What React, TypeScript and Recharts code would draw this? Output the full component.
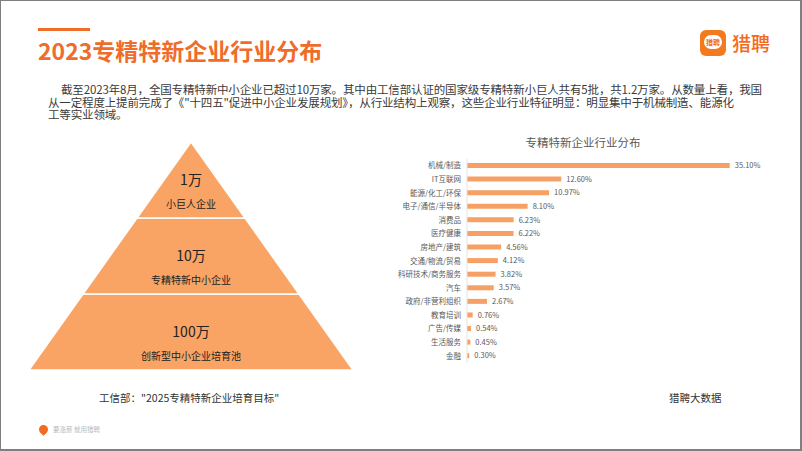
import React from 'react';
import { BarChart, Bar, XAxis, YAxis, LabelList, FunnelChart, Funnel, Trapezoid } from 'recharts';

const industries = [
  '机械/制造', 'IT互联网', '能源/化工/环保', '电子/通信/半导体', '消费品', '医疗健康',
  '房地产/建筑', '交通/物流/贸易', '科研技术/商务服务', '汽车', '政府/非营利组织',
  '教育培训', '广告/传媒', '生活服务', '金融',
];
const shares = [35.1, 12.6, 10.97, 8.1, 6.23, 6.22, 4.56, 4.12, 3.82, 3.57, 2.67, 0.76, 0.54, 0.45, 0.3];

// pyramid tiers, bottom to top
const tierValues = ['100万', '10万', '1万'];
const tierNames = ['创新型中小企业培育池', '专精特新中小企业', '小巨人企业'];
const tierLevels = [3, 2, 1];

const barData = industries.map((name, i) => ({ name, share: shares[i] }));
const tierData = tierValues.map((v, i) => ({ label: v, name: tierNames[i], level: tierLevels[i] }));

const intro =
  '截至2023年8月，全国专精特新中小企业已超过10万家。其中由工信部认证的国家级专精特新小巨人共有5批，共1.2万家。从数量上看，我国\n' +
  '从一定程度上提前完成了《"十四五"促进中小企业发展规划》，从行业结构上观察，这些企业行业特征明显：明显集中于机械制造、能源化\n' +
  '工等实业领域。';

const FONT = '"Noto Sans CJK SC", "Noto Sans", sans-serif';
const ORANGE = '#EF6C2B';
const PYRAMID = '#F9A465';
const BAR = '#F7A065';

const TierShape = (props: any) => {
  const { x, y, upperWidth, lowerWidth, height, payload } = props;
  const cx = x + upperWidth / 2;
  const cy = y + height / 2;
  const entry = payload && payload.label ? payload : props;
  return (
    <g>
      <Trapezoid x={x} y={y} upperWidth={upperWidth} lowerWidth={lowerWidth} height={height}
        fill={PYRAMID} stroke="#fff" strokeWidth={1.5} />
      <text x={cx} y={cy - 1} textAnchor="middle" dominantBaseline="central" fontSize={14} fill="#222" fontFamily={FONT}>
        {entry.label}
      </text>
      <text x={cx} y={cy + 23} textAnchor="middle" dominantBaseline="central" fontSize={10} fill="#222" fontFamily={FONT}>
        {entry.name}
      </text>
    </g>
  );
};

const abs = (left: number, top: number, extra: React.CSSProperties = {}): React.CSSProperties => ({
  position: 'absolute', left, top, whiteSpace: 'nowrap', ...extra,
});

export default function App() {
  return (
    <div style={{
      position: 'absolute', left: 0, top: 0, width: 802, height: 451, background: '#fff',
      boxSizing: 'border-box', borderStyle: 'solid', borderColor: '#7f7f7f', borderWidth: '1px 2px 2px 1px',
      fontFamily: FONT, overflow: 'hidden',
    }}>
      {/* header */}
      <div style={abs(37, 27, { width: 52, height: 3, background: ORANGE })} />
      <div style={abs(37, 35, { fontSize: 23, lineHeight: '28px', fontWeight: 700, color: ORANGE })}>
        2023专精特新企业行业分布
      </div>
      <div style={abs(699, 29, { width: 26, height: 26, borderRadius: 6, background: '#F47A1F' })}>
        <div style={{ position: 'absolute', left: 4, top: 5, width: 18, height: 14, borderRadius: 7, background: '#fff',
          fontSize: 7, lineHeight: '14px', textAlign: 'center', color: '#F26B21', fontWeight: 700 }}>猎聘</div>
      </div>
      <div style={abs(731, 30, { fontSize: 19, lineHeight: '24px', color: '#F26B21', fontWeight: 500 })}>猎聘</div>

      {/* paragraph */}
      <div style={abs(47, 82, { whiteSpace: 'pre', textIndent: 13, fontSize: 11.5, lineHeight: '12.6px',
        letterSpacing: -0.15, color: '#3a3a3a' })}>
        {intro}
      </div>

      {/* pyramid */}
      <div style={abs(0, 130)}>
        <FunnelChart width={380} height={250} margin={{ top: 11, right: 28, bottom: 11, left: 28 }}>
          <Funnel data={tierData} dataKey="level" nameKey="name" reversed isAnimationActive={false}
            shape={TierShape} />
        </FunnelChart>
      </div>

      {/* bar chart */}
      <div style={abs(482, 134, { width: 200, textAlign: 'center', fontSize: 11.5, lineHeight: '14px', color: '#595959' })}>
        专精特新企业行业分布
      </div>
      <div style={abs(380, 150)}>
        <BarChart width={420} height={220} data={barData} layout="vertical"
          margin={{ top: 8, right: 34.6, bottom: 8.2, left: 6 }}>
          <XAxis type="number" domain={[0, 40]} hide />
          <YAxis type="category" dataKey="name" width={80} tickLine={false} tickSize={4} tickMargin={2}
            axisLine={{ stroke: '#e3e3e3' }} interval={0}
            tick={{ fontSize: 7.5, fill: '#595959', fontFamily: FONT }} />
          <Bar dataKey="share" fill={BAR} barSize={5} isAnimationActive={false}>
            <LabelList dataKey="share" position="right" offset={5}
              formatter={(v: any) => `${Number(v).toFixed(2)}%`}
              style={{ fontSize: 7.5, fill: '#595959', fontFamily: FONT }} />
          </Bar>
        </BarChart>
      </div>

      {/* footer */}
      <div style={abs(98, 390, { fontSize: 10.5, lineHeight: '14px', color: '#333' })}>工信部："2025专精特新企业培育目标"</div>
      <div style={abs(668, 390, { fontSize: 10.5, lineHeight: '14px', color: '#333' })}>猎聘大数据</div>
      <div style={abs(38, 424, { width: 9, height: 9, borderRadius: '50% 50% 50% 0', transform: 'rotate(-45deg)', background: '#F26B21' })} />
      <div style={abs(52, 423, { fontSize: 6.5, lineHeight: '10px', color: '#bbb' })}>要涨薪 就用猎聘</div>
    </div>
  );
}
